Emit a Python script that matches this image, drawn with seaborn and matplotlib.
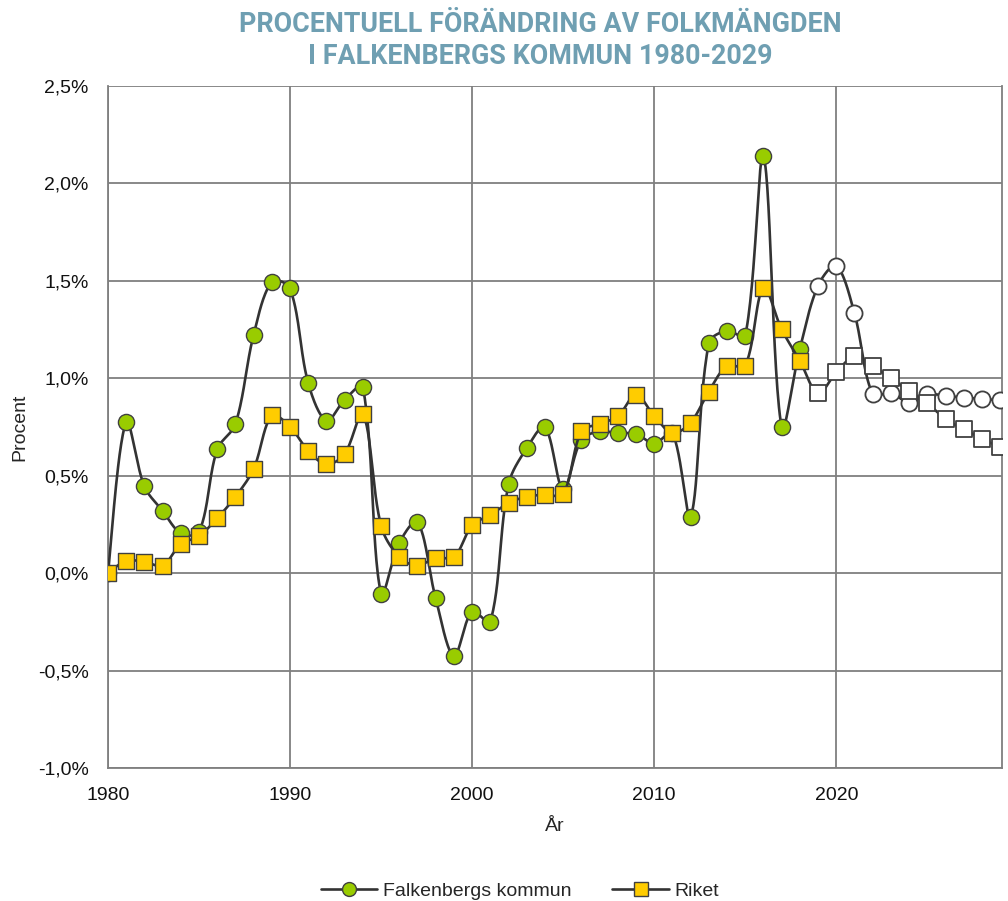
import numpy as np
import pandas as pd
import seaborn as sns
import matplotlib
matplotlib.use("Agg")
import matplotlib.pyplot as plt
from matplotlib.lines import Line2D
from matplotlib.ticker import FuncFormatter

years = list(range(1980, 2030))

# Falkenbergs kommun, procentuell förändring (prognos från 2019)
falkenberg = [0.00, 0.775, 0.445, 0.32, 0.205, 0.21, 0.635, 0.765, 1.223, 1.495,
              1.461, 0.975, 0.782, 0.89, 0.956, -0.105, 0.155, 0.263, -0.13, -0.425,
              -0.197, -0.25, 0.455, 0.642, 0.749, 0.43, 0.684, 0.727, 0.718, 0.715,
              0.665, 0.72, 0.29, 1.18, 1.244, 1.218, 2.14, 0.749, 1.151, 1.475,
              1.577, 1.333, 0.918, 0.925, 0.875, 0.918, 0.91, 0.90, 0.895, 0.886]

# Riket
riket = [0.00, 0.063, 0.058, 0.039, 0.149, 0.19, 0.282, 0.392, 0.535, 0.809,
         0.751, 0.628, 0.558, 0.612, 0.819, 0.243, 0.082, 0.039, 0.079, 0.082,
         0.245, 0.299, 0.359, 0.393, 0.402, 0.405, 0.727, 0.766, 0.804, 0.915,
         0.807, 0.718, 0.773, 0.932, 1.064, 1.064, 1.465, 1.251, 1.09, 0.923,
         1.03, 1.112, 1.064, 0.999, 0.934, 0.872, 0.79, 0.739, 0.689, 0.647]

first_forecast_year = 2019
y_ticks = [-1.0, -0.5, 0.0, 0.5, 1.0, 1.5, 2.0, 2.5]
x_ticks = [1980, 1990, 2000, 2010, 2020]

df = pd.DataFrame({"År": years, "Falkenbergs kommun": falkenberg, "Riket": riket})
df["prognos"] = df["År"] >= first_forecast_year

# ungefärlig skala i pixlar (för utjämningen)
PX_PER_YEAR = 18.2
PX_PER_PCT = 194.8


def smooth(x, y, n=30):
    # utjämnad linje i stil med Excel: Bezier med kontrollpunkter
    # viktade efter segmentlängderna på skärmen
    pts = np.column_stack([np.asarray(x, float) * PX_PER_YEAR,
                           np.asarray(y, float) * PX_PER_PCT])
    m = len(pts)
    t = np.linspace(0, 1, n)[:, None]
    out = []
    for i in range(m - 1):
        p0 = pts[i - 1] if i > 0 else pts[i]
        p1 = pts[i]
        p2 = pts[i + 1]
        p3 = pts[i + 2] if i + 2 < m else pts[i + 1]
        d01 = np.linalg.norm(p1 - p0)
        d12 = np.linalg.norm(p2 - p1)
        d23 = np.linalg.norm(p3 - p2)
        f1 = d12 / (d01 + d12) / 3 if d01 > 0 else 1 / 6
        f2 = d12 / (d12 + d23) / 3 if d23 > 0 else 1 / 6
        c1 = p1 + (p2 - p0) * f1
        c2 = p2 - (p3 - p1) * f2
        seg = ((1 - t) ** 3) * p1 + 3 * ((1 - t) ** 2) * t * c1 + 3 * (1 - t) * t ** 2 * c2 + t ** 3 * p2
        out.append(seg if i == 0 else seg[1:])
    out = np.vstack(out)
    return out[:, 0] / PX_PER_YEAR, out[:, 1] / PX_PER_PCT


sns.set_style("white")
plt.rcParams["font.family"] = ["Liberation Sans", "DejaVu Sans"]

fig = plt.figure(figsize=(10.08, 9.01), dpi=100)
ax = fig.add_axes([0.1071, 0.1476, 0.8869, 0.757])

line_col = "#333333"
edge_col = "#404040"
green = "#99cc00"
yellow = "#ffcc00"

obs = df[~df["prognos"]]
prog = df[df["prognos"]]

# Falkenberg
sx, sy = smooth(df["År"], df["Falkenbergs kommun"])
ax.plot(sx, sy, color=line_col, lw=1.9, zorder=3, solid_capstyle="round")
sns.scatterplot(data=obs, x="År", y="Falkenbergs kommun", ax=ax, marker="o", s=135,
                color=green, edgecolor=edge_col, linewidth=1.0, zorder=4, legend=False)
sns.scatterplot(data=prog, x="År", y="Falkenbergs kommun", ax=ax, marker="o", s=135,
                color="white", edgecolor=edge_col, linewidth=1.3, zorder=4, legend=False)

# Riket
rx, ry = smooth(df["År"], df["Riket"])
ax.plot(rx, ry, color=line_col, lw=1.9, zorder=5, solid_capstyle="round")
sns.scatterplot(data=obs, x="År", y="Riket", ax=ax, marker="s", s=135,
                color=yellow, edgecolor=edge_col, linewidth=1.0, zorder=6, legend=False)
sns.scatterplot(data=prog, x="År", y="Riket", ax=ax, marker="s", s=135,
                color="white", edgecolor=edge_col, linewidth=1.3, zorder=6, legend=False)

ax.set_xlim(1980, 2029.1)
ax.set_ylim(-1.0, 2.5)
ax.set_xticks(x_ticks)
ax.set_yticks(y_ticks)
ax.yaxis.set_major_formatter(FuncFormatter(lambda v, p: f"{v:.1f}%".replace(".", ",")))
ax.grid(True, color="#7f7f7f", lw=1.3)
ax.set_axisbelow(True)
for s in ax.spines.values():
    s.set_color("#7f7f7f")
    s.set_linewidth(1.3)
ax.spines["top"].set_visible(False)
ax.tick_params(axis="both", length=4, width=1.2, color="#7f7f7f", labelsize=14,
               labelcolor="#111111", direction="out")
ax.tick_params(axis="y", pad=10)
ax.tick_params(axis="x", pad=10)
ax.set_xlabel("År", fontsize=14, labelpad=10)
ax.set_ylabel("Procent", fontsize=14, labelpad=7)

title_kw = dict(ha="center", va="center", fontsize=19.4, fontweight="bold",
                color="#6f9fb2", family=["Roboto", "DejaVu Sans"])
fig.text(540 / 1008, 1 - 24 / 901, "PROCENTUELL FÖRÄNDRING AV FOLKMÄNGDEN", **title_kw)
fig.text(540 / 1008, 1 - 56 / 901, "I FALKENBERGS KOMMUN 1980-2029", **title_kw)

handles = [
    Line2D([0], [0], color=line_col, lw=1.9, marker="o", markersize=10,
           markerfacecolor=green, markeredgecolor=edge_col, label="Falkenbergs kommun"),
    Line2D([0], [0], color=line_col, lw=1.9, marker="s", markersize=10,
           markerfacecolor=yellow, markeredgecolor=edge_col, label="Riket"),
]
fig.legend(handles=handles, loc="center", bbox_to_anchor=(520 / 1008, 1 - 891 / 901), ncol=2,
           frameon=False, fontsize=14, handlelength=2.9, columnspacing=2.1, handletextpad=0.3)

fig.savefig("out.png", dpi=100)
